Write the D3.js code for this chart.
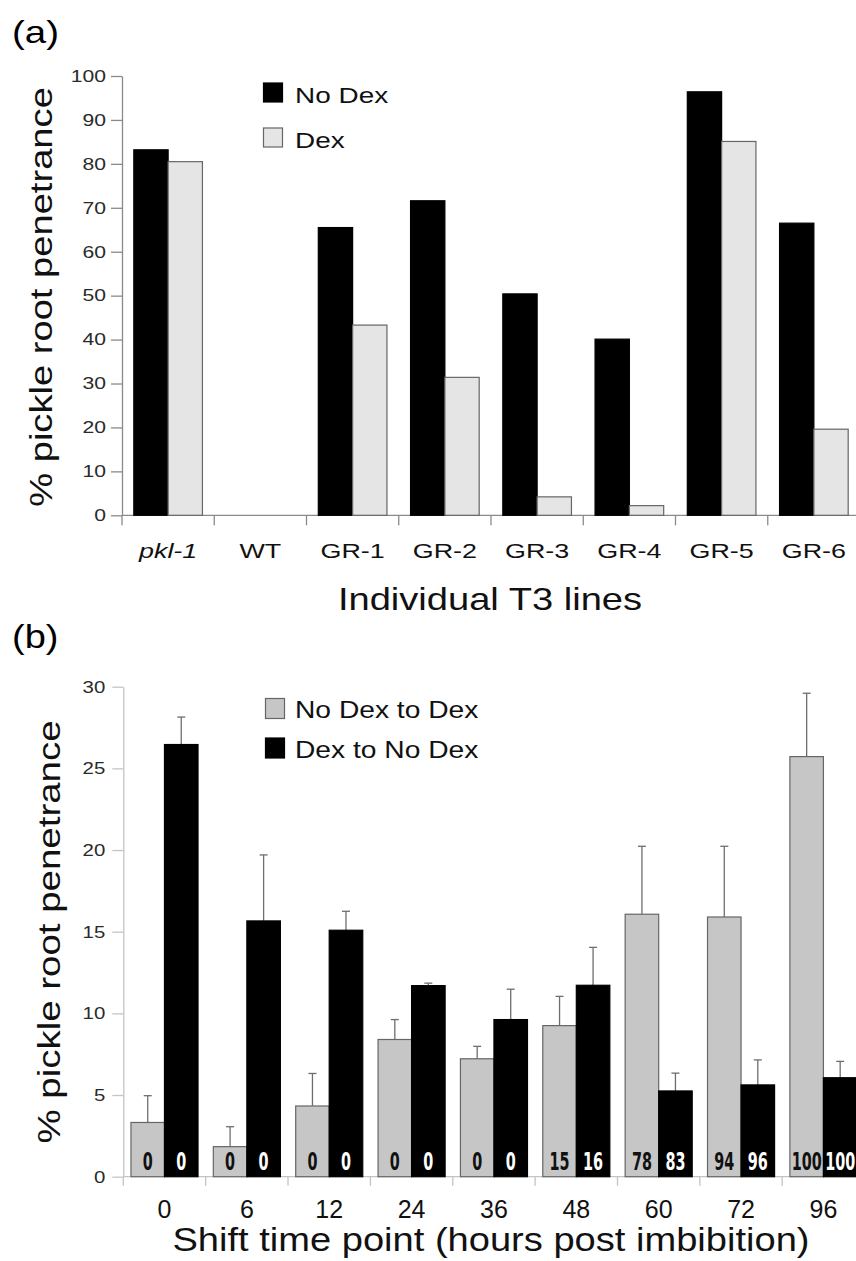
<!DOCTYPE html>
<html>
<head>
<meta charset="utf-8">
<script src="https://cdn.jsdelivr.net/npm/d3@7"></script>
<style>
  body { margin: 0; background: #fff; }
  svg { display: block; font-family: "Liberation Sans", Arial, Helvetica, sans-serif; }
</style>
</head>
<body>
<script>
// panel (a) data
var linesA = ["pkl-1", "WT", "GR-1", "GR-2", "GR-3", "GR-4", "GR-5", "GR-6"];
var noDexA = [83.2, 0, 65.5, 71.6, 50.4, 40.1, 96.4, 66.5];
var dexA = [80.5, 0, 43.3, 31.4, 4.2, 2.2, 85.1, 19.6];
var ticksA = [0, 10, 20, 30, 40, 50, 60, 70, 80, 90, 100];

// panel (b) data
var timesB = ["0", "6", "12", "24", "36", "48", "60", "72", "96"];
var noDexToDex = [3.32, 1.84, 4.33, 8.4, 7.22, 9.25, 16.07, 15.9, 25.72];
var noDexToDexErr = [1.64, 1.22, 1.99, 1.22, 0.76, 1.79, 4.16, 4.33, 3.88];
var dexToNoDex = [26.46, 15.66, 15.09, 11.7, 9.62, 11.72, 5.25, 5.62, 6.06];
var dexToNoDexErr = [1.68, 4.04, 1.16, 0.15, 1.86, 2.32, 1.09, 1.53, 1.0];
var countNoDexToDex = [0, 0, 0, 0, 0, 15, 78, 94, 100];
var countDexToNoDex = [0, 0, 0, 0, 0, 16, 83, 96, 100];
var ticksB = [0, 5, 10, 15, 20, 25, 30];

var W = 856, H = 1261;

// the figure's type is wider than Arial, so widen text to match
function stretch(sel, f) {
  sel.each(function () {
    var w = this.getComputedTextLength();
    d3.select(this).attr("textLength", w * f).attr("lengthAdjust", "spacingAndGlyphs");
  });
}

var svg = d3.select("body").append("svg").
attr("width", W).
attr("height", H);

svg.append("rect").attr("width", W).attr("height", H).attr("fill", "#fff");

// ---------------- panel (a) ----------------
var xA = d3.scaleBand().domain(linesA).range([122, 860]).paddingInner(0.256).paddingOuter(0.128);
var sA = d3.scaleBand().domain(["noDex", "dex"]).range([0, xA.bandwidth()]);
var yA = d3.scaleLinear().domain([0, 100]).range([515.3, 76]);

var gA = svg.append("g");

gA.append("text").
attr("x", 12).
attr("y", 43).
style("font-size", "32px").
text("(a)").
call(stretch, 1.2);

// y axis
var yAxisA = gA.append("g").
attr("transform", "translate(122,0)").
call(d3.axisLeft(yA).tickValues(ticksA).tickSize(11).tickPadding(5).tickSizeOuter(0));
yAxisA.selectAll("path, line").attr("stroke", "#8a8a8a").attr("stroke-width", 1.3);
yAxisA.selectAll("text").
attr("fill", "#2a2a2a").
style("font-size", "16.5px").
style("font-family", "inherit").
call(stretch, 1.28);

// x axis: labels at band centres, ticks at band edges
var stepA = xA.step();
var xAxisA = gA.append("g").
attr("transform", "translate(0,515.3)").
call(d3.axisBottom(xA).tickSize(0).tickSizeOuter(0));
xAxisA.select(".domain").remove();
xAxisA.selectAll("text").
attr("y", 43).
attr("dy", null).
attr("fill", "#111").
style("font-size", "21px").
style("font-family", "inherit").
style("font-style", function (d) {return d === "pkl-1" ? "italic" : "normal";}).
call(stretch, 1.28);

var edgesA = linesA.map(function (d) {return xA(d) - stepA * xA.paddingInner() / 2;});
edgesA.push(xA(linesA[linesA.length - 1]) + xA.bandwidth() + stepA * xA.paddingInner() / 2);

gA.append("line").
attr("x1", edgesA[0]).attr("x2", edgesA[edgesA.length - 1]).
attr("y1", yA(0)).attr("y2", yA(0)).
attr("stroke", "#8a8a8a").attr("stroke-width", 1.3);

gA.selectAll(".edgeA").
data(edgesA).
enter().append("line").
attr("class", "edgeA").
attr("x1", function (d) {return d;}).attr("x2", function (d) {return d;}).
attr("y1", yA(0)).attr("y2", yA(0) + 10).
attr("stroke", "#8a8a8a").attr("stroke-width", 1.3);

// bars
var barsA = [];
linesA.forEach(function (c, i) {
  barsA.push({ cat: c, key: "noDex", v: noDexA[i] });
  barsA.push({ cat: c, key: "dex", v: dexA[i] });
});

gA.selectAll(".barA").
data(barsA.filter(function (d) {return d.v > 0;})).
enter().append("rect").
attr("class", "barA").
attr("x", function (d) {return xA(d.cat) + sA(d.key);}).
attr("y", function (d) {return yA(d.v);}).
attr("width", sA.bandwidth()).
attr("height", function (d) {return yA(0) - yA(d.v);}).
attr("fill", function (d) {return d.key === "noDex" ? "#000" : "#e5e5e5";}).
attr("stroke", function (d) {return d.key === "noDex" ? "#000" : "#666";}).
attr("stroke-width", 1.2);

// legend (a)
var legA = [{ label: "No Dex", fill: "#000", stroke: "#000", y: 83, ty: 103 },
{ label: "Dex", fill: "#e5e5e5", stroke: "#666", y: 128, ty: 147.5 }];
legA.forEach(function (d) {
  gA.append("rect").
  attr("x", 263.5).attr("y", d.y).
  attr("width", 19).attr("height", 19).
  attr("fill", d.fill).attr("stroke", d.stroke).attr("stroke-width", 1.2);
  gA.append("text").
  attr("x", 295).attr("y", d.ty).
  attr("fill", "#111").
  style("font-size", "22px").
  text(d.label).
  call(stretch, 1.27);
});

// axis titles (a)
gA.append("text").
attr("x", 490).attr("y", 610).
attr("text-anchor", "middle").
attr("fill", "#111").
style("font-size", "32px").
text("Individual T3 lines").
call(stretch, 1.19);

gA.append("text").
attr("transform", "translate(52,297) rotate(-90)").
attr("text-anchor", "middle").
attr("fill", "#111").
style("font-size", "31px").
text("% pickle root penetrance").
call(stretch, 1.23);

// ---------------- panel (b) ----------------
var xB = d3.scaleBand().domain(timesB).range([123.3, 864.6]).paddingInner(0.186).paddingOuter(0.093);
var sB = d3.scaleBand().domain(["noDexToDex", "dexToNoDex"]).range([0, xB.bandwidth()]);
var yB = d3.scaleLinear().domain([0, 30]).range([1176.7, 686.7]);

var gB = svg.append("g");

gB.append("text").
attr("x", 12).
attr("y", 648).
style("font-size", "33px").
text("(b)").
call(stretch, 1.15);

var yAxisB = gB.append("g").
attr("transform", "translate(123.3,0)").
call(d3.axisLeft(yB).tickValues(ticksB).tickSize(11).tickPadding(7).tickSizeOuter(0));
yAxisB.selectAll("path, line").attr("stroke", "#c4c4c4").attr("stroke-width", 1.3);
yAxisB.selectAll("text").
attr("fill", "#2a2a2a").
style("font-size", "17px").
style("font-family", "inherit").
call(stretch, 1.2);

var stepB = xB.step();
var xAxisB = gB.append("g").
attr("transform", "translate(0,1176.7)").
call(d3.axisBottom(xB).tickSize(0).tickSizeOuter(0));
xAxisB.select(".domain").remove();
xAxisB.selectAll("text").
attr("y", 41).
attr("dy", null).
attr("fill", "#111").
style("font-size", "25px").
style("font-family", "inherit");

var edgesB = timesB.map(function (d) {return xB(d) - stepB * xB.paddingInner() / 2;});
edgesB.push(xB(timesB[timesB.length - 1]) + xB.bandwidth() + stepB * xB.paddingInner() / 2);

gB.append("line").
attr("x1", edgesB[0]).attr("x2", edgesB[edgesB.length - 1]).
attr("y1", yB(0)).attr("y2", yB(0)).
attr("stroke", "#c4c4c4").attr("stroke-width", 1.3);

gB.selectAll(".edgeB").
data(edgesB).
enter().append("line").
attr("class", "edgeB").
attr("x1", function (d) {return d;}).attr("x2", function (d) {return d;}).
attr("y1", yB(0)).attr("y2", yB(0) + 9).
attr("stroke", "#c4c4c4").attr("stroke-width", 1.3);

var barsB = [];
timesB.forEach(function (c, i) {
  barsB.push({ cat: c, key: "noDexToDex", v: noDexToDex[i], e: noDexToDexErr[i], n: countNoDexToDex[i] });
  barsB.push({ cat: c, key: "dexToNoDex", v: dexToNoDex[i], e: dexToNoDexErr[i], n: countDexToNoDex[i] });
});

function midB(d) {return xB(d.cat) + sB(d.key) + sB.bandwidth() / 2;}

// error bars (upper only), drawn behind the bars
var errB = gB.selectAll(".errB").
data(barsB).
enter().append("g").
attr("class", "errB").
attr("stroke", "#6e6e6e").
attr("stroke-width", 1.3);
errB.append("line").
attr("x1", midB).attr("x2", midB).
attr("y1", function (d) {return yB(d.v);}).
attr("y2", function (d) {return yB(d.v + d.e);});
errB.append("line").
attr("x1", function (d) {return midB(d) - 4;}).
attr("x2", function (d) {return midB(d) + 4;}).
attr("y1", function (d) {return yB(d.v + d.e);}).
attr("y2", function (d) {return yB(d.v + d.e);});

gB.selectAll(".barB").
data(barsB).
enter().append("rect").
attr("class", "barB").
attr("x", function (d) {return xB(d.cat) + sB(d.key);}).
attr("y", function (d) {return yB(d.v);}).
attr("width", sB.bandwidth()).
attr("height", function (d) {return yB(0) - yB(d.v);}).
attr("fill", function (d) {return d.key === "dexToNoDex" ? "#000" : "#c6c6c6";}).
attr("stroke", function (d) {return d.key === "dexToNoDex" ? "#000" : "#666";}).
attr("stroke-width", 1.2);

// counts printed at the foot of each bar, in a narrow bold face
gB.selectAll(".countB").
data(barsB).
enter().append("text").
attr("class", "countB").
attr("transform", function (d) {return "translate(" + midB(d) + "," + (yB(0) - 6.5) + ") scale(0.64,1)";}).
attr("text-anchor", "middle").
attr("fill", function (d) {return d.key === "dexToNoDex" ? "#fff" : "#111";}).
style("font-family", "'DejaVu Sans Condensed', 'DejaVu Sans', sans-serif").
style("font-weight", "bold").
style("font-size", "25px").
text(function (d) {return d.n;});

// legend (b)
var legB = [{ label: "No Dex to Dex", fill: "#c6c6c6", stroke: "#666", y: 698.5, ty: 718 },
{ label: "Dex to No Dex", fill: "#000", stroke: "#000", y: 738, ty: 757.5 }];
legB.forEach(function (d) {
  gB.append("rect").
  attr("x", 265.5).attr("y", d.y).
  attr("width", 19).attr("height", 20).
  attr("fill", d.fill).attr("stroke", d.stroke).attr("stroke-width", 1.2);
  gB.append("text").
  attr("x", 295).attr("y", d.ty).
  attr("fill", "#111").
  style("font-size", "23.5px").
  text(d.label).
  call(stretch, 1.2);
});

gB.append("text").
attr("x", 491).attr("y", 1251).
attr("text-anchor", "middle").
attr("fill", "#111").
style("font-size", "34px").
text("Shift time point (hours post imbibition)").
call(stretch, 1.12);

gB.append("text").
attr("transform", "translate(60,932) rotate(-90)").
attr("text-anchor", "middle").
attr("fill", "#111").
style("font-size", "31px").
text("% pickle root penetrance").
call(stretch, 1.24);
</script>
</body>
</html>
